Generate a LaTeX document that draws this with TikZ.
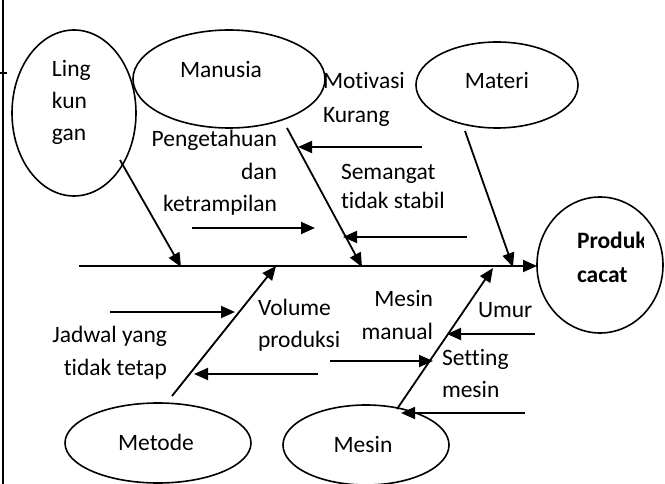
\documentclass[tikz,border=0pt]{standalone}
\usepackage{fontspec}
\setmainfont{Carlito}[Ligatures=NoCommon]
\usetikzlibrary{shapes.geometric,arrows.meta}
\begin{document}
\begin{tikzpicture}[x=1pt,y=-1pt,
  every node/.style={font=\fontsize{23.5}{28}\selectfont, inner sep=0pt, outer sep=0pt},
  oval/.style={draw, ellipse, line width=1.6pt},
  line/.style={line width=1.8pt},
  arr/.style={line width=1.8pt, -{Triangle[length=14pt,width=12pt]}},
  bold/.style={font=\fontsize{23.5}{28}\selectfont\bfseries}]
\useasboundingbox (0,0) rectangle (665,484);

% frame remnants
\coordinate (fr1) at (3,0);
\coordinate (fr2) at (3,484);
\coordinate (tk1) at (0,73);
\coordinate (tk2) at (7,73);
\draw[line] (fr1) -- (fr2);
\draw[line] (tk1) -- (tk2);

% ellipses
\node[oval, minimum width=124pt, minimum height=166pt] (lingE) at (74,113) {};
\node[oval, minimum width=192pt, minimum height=98pt] (manE) at (229,79) {};
\node[oval, minimum width=162pt, minimum height=86pt] (matE) at (497,85) {};
\node[oval, minimum width=126pt, minimum height=136pt] (prodE) at (600,265) {};
\node[oval, minimum width=186pt, minimum height=80pt] (metE) at (158,443) {};
\node[oval, minimum width=166pt, minimum height=80pt] (mesE) at (366,445) {};

% ellipse texts
\node[anchor=base west] (tLing) at (52,77) {Ling};
\node[anchor=base west] (tKun) at (52,109) {kun};
\node[anchor=base west] (tGan) at (52,141) {gan};
\node[anchor=base] (tManusia) at (221,78) {Manusia};
\node[anchor=base] (tMateri) at (497,89) {Materi};
\node[anchor=base] (tMetode) at (156,450) {Metode};
\node[anchor=base] (tMesinE) at (363,452) {Mesin};
\begin{scope}
  \clip (570,225) rectangle (643,260);
  \node[bold, anchor=base west] (tProduk) at (577,249) {Produk};
\end{scope}
\node[bold, anchor=base west] (tCacat) at (577,283) {cacat};

% cause texts
\node[anchor=base west] (tMot) at (323,89) {Motivasi};
\node[anchor=base west] (tKur) at (323,123) {Kurang};
\node[anchor=base east] (tPeng) at (277,147) {Pengetahuan};
\node[anchor=base east] (tDan) at (277,180) {dan};
\node[anchor=base east] (tKet) at (277,212) {ketrampilan};
\node[anchor=base west] (tSem) at (341,180) {Semangat};
\node[anchor=base west] (tTid) at (341,209) {tidak stabil};
\node[anchor=base east] (tJad) at (167,342) {Jadwal yang};
\node[anchor=base east] (tTet) at (167,375) {tidak tetap};
\node[anchor=base west] (tVol) at (258,316) {Volume};
\node[anchor=base west] (tProd) at (258,348) {produksi};
\node[anchor=base east] (tMes) at (433,307) {Mesin};
\node[anchor=base east] (tMan) at (433,340) {manual};
\node[anchor=base west] (tUmur) at (478,317) {Umur};
\node[anchor=base west] (tSet) at (442,365) {Setting};
\node[anchor=base west] (tMsn) at (442,397) {mesin};

% spine
\coordinate (s0) at (79,266);
\draw[arr] (s0) -- (s0 -| prodE.west);

% bones
\coordinate (bL1) at (120,160); \coordinate (bL2) at (181,267);
\coordinate (bM1) at (287,128); \coordinate (bM2) at (362,267);
\coordinate (bT1) at (465,131); \coordinate (bT2) at (513,267);
\coordinate (bO1) at (172,396); \coordinate (bO2) at (276,266);
\coordinate (bS1) at (397,409); \coordinate (bS2) at (493,268);
\draw[arr] (bL1) -- (bL2);
\draw[arr] (bM1) -- (bM2);
\draw[arr] (bT1) -- (bT2);
\draw[arr] (bO1) -- (bO2);
\draw[arr] (bS1) -- (bS2);

% sub-cause arrows
\coordinate (aMot1) at (422,147); \coordinate (aMot2) at (298,147);
\coordinate (aPen1) at (192,228); \coordinate (aPen2) at (315,228);
\coordinate (aSem1) at (467,237); \coordinate (aSem2) at (343,237);
\coordinate (aJad1) at (110,312); \coordinate (aJad2) at (235,312);
\coordinate (aVol1) at (318,374); \coordinate (aVol2) at (194,374);
\coordinate (aMes1) at (330,361); \coordinate (aMes2) at (433,361);
\coordinate (aUmu1) at (535,334); \coordinate (aUmu2) at (447,334);
\coordinate (aSet1) at (525,413); \coordinate (aSet2) at (401,413);
\draw[arr] (aMot1) -- (aMot2);
\draw[arr] (aPen1) -- (aPen2);
\draw[arr] (aSem1) -- (aSem2);
\draw[arr] (aJad1) -- (aJad2);
\draw[arr] (aVol1) -- (aVol2);
\draw[arr] (aMes1) -- (aMes2);
\draw[arr] (aUmu1) -- (aUmu2);
\draw[arr] (aSet1) -- (aSet2);
\end{tikzpicture}
\end{document}
